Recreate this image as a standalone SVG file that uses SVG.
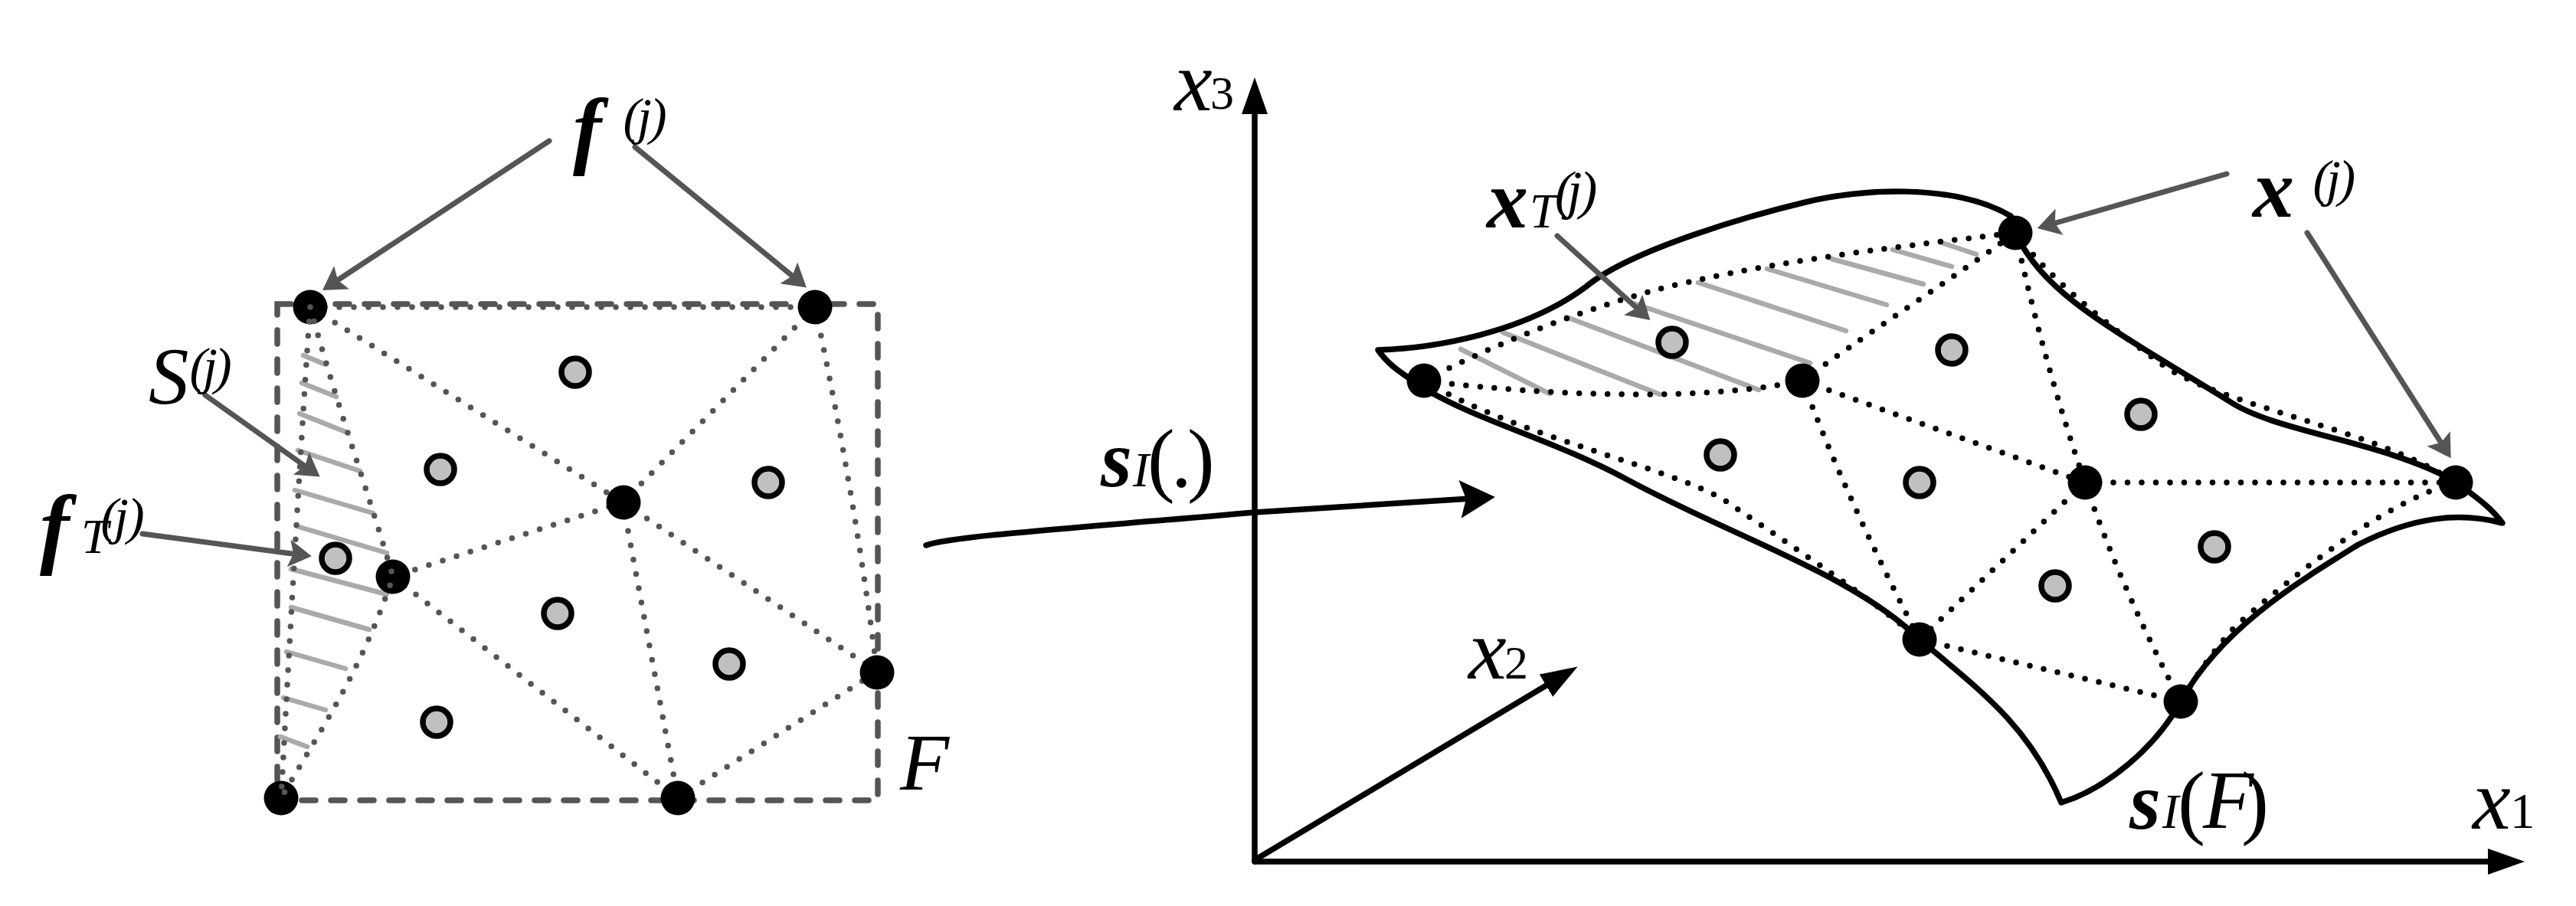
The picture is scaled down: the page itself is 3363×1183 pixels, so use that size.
<svg xmlns="http://www.w3.org/2000/svg" width="3363" height="1183" viewBox="0 0 3363 1183">
<style>
text{font-family:"Liberation Serif","Times New Roman",serif;fill:#000}
.i{font-style:italic;font-weight:normal}.b{font-weight:bold;font-style:italic}.u{font-style:normal;font-weight:normal}
.dg{fill:none;stroke:#555;stroke-width:7.5;stroke-linecap:round;stroke-dasharray:0 19}
.dk{fill:none;stroke:#000;stroke-width:7.5;stroke-linecap:round;stroke-dasharray:0 18.5}
.h{stroke:#aaa;stroke-width:6.5;stroke-linecap:round}
.ag{stroke:#555;stroke-width:7;fill:none;stroke-linecap:round;marker-end:url(#hg)}
.ak{stroke:#000;stroke-width:7.5;fill:none;stroke-linecap:round}
.bn{fill:#000}.gn{fill:#c0c0c0;stroke:#000;stroke-width:7.5}
</style>
<defs>
<marker id="hg" markerUnits="userSpaceOnUse" markerWidth="34" markerHeight="40" refX="12" refY="18" orient="auto"><path d="M0 0L30 18L0 36L6 18Z" fill="#555"/></marker>
<marker id="hk" markerUnits="userSpaceOnUse" markerWidth="52" markerHeight="38" refX="10" refY="17" orient="auto"><path d="M0 0L48 17L0 34Z" fill="#000"/></marker>
<marker id="hs" markerUnits="userSpaceOnUse" markerWidth="52" markerHeight="54" refX="14" refY="25" orient="auto"><path d="M0 0L46 25L0 50L8 25Z" fill="#000"/></marker>
</defs>
<rect width="3363" height="1183" fill="#fff"/>
<g id="connectors">
<rect id="frame-F" x="362" y="397" width="784" height="648" fill="none" stroke="#555" stroke-width="7.5" stroke-linecap="round" stroke-dasharray="18 20"/>
<path class="dg" d="M405 401H1064M405 401L813 656M1064 401L813 656M1064 401Q1115 640 1145 877M813 656L1145 877M813 656L513 753M813 656L885 1042M513 753L885 1042M885 1042L1145 877"/>
<g id="hatch-left">
<path class="h" d="M396 464L425 476M394 500L439 518M391 540L454 565M389 588L470 615M385 640L487 670M387 687L505 722M380 743L505 776M380 793L482 822M374 851L451 873M370 911L425 927M366 962L401 975"/>
</g>
<g id="hatch-right">
<path class="h" d="M1907 456L2023 514M1962 434L2167 515M2045 414L2296 509M2129 395L2363 474M2217 369L2410 432M2307 351L2463 398M2391 338L2511 371M2471 326L2548 348M2535 317L2580 332"/>
</g>
<path id="surface" fill="none" stroke="#000" stroke-width="7.5" stroke-linejoin="round" stroke-linecap="round" d="M2625 282C2550 238 2425 247 2357 264C2290 280 2130 325 2071 374C1990 435 1870 455 1799 457C1815 480 1835 490 1859 507C1930 550 2030 575 2124 626C2260 700 2420 750 2506 835C2590 905 2650 950 2691 1048C2750 1030 2815 975 2847 916C2900 820 3000 760 3079 711C3150 675 3210 668 3267 683C3250 660 3230 648 3206 629C3110 575 2970 565 2909 523C2750 425 2670 385 2631 304"/>
<path class="dk" d="M1859 497C1950 450 2050 410 2156 380C2290 345 2450 325 2631 304M1859 497C1960 510 2200 530 2353 497M2353 497C2460 420 2540 370 2631 304M1859 497C1980 570 2180 610 2251 653C2350 720 2440 780 2506 835M2353 497Q2410 650 2506 835M2353 497L2722 630M2631 304Q2670 480 2722 630M2631 304C2680 370 2760 430 2824 477C2900 530 3100 560 3206 630M2722 630H3206M3206 630C3130 650 3030 720 2919 817Q2880 860 2847 916M2722 630L2506 835M2722 630Q2770 770 2847 916M2506 835L2847 916"/>
<path class="ak" d="M1209 712C1240 700 1400 690 1638 669L1920 651" marker-end="url(#hs)"/>
<path class="ak" d="M1638 1125V139" marker-end="url(#hk)"/>
<path class="ak" d="M1638 1125H3258" marker-end="url(#hk)"/>
<path class="ak" d="M1638 1123L2027 890" marker-end="url(#hk)"/>
<path class="ag" d="M717 184L436 369"/>
<path class="ag" d="M829 192L1039 364"/>
<path class="ag" d="M268 516L403 612"/>
<path class="ag" d="M186 697L389 724"/>
<path class="ag" d="M2907 227L2677 293"/>
<path class="ag" d="M3012 304L3190 583"/>
<path class="ag" d="M2033 308L2141 406"/>
</g>
<g id="node-f1"><circle class="bn" cx="405" cy="401" r="22.5"/></g>
<g id="node-f2"><circle class="bn" cx="1064" cy="401" r="22.5"/></g>
<g id="node-f3"><circle class="bn" cx="814" cy="656" r="22.5"/></g>
<g id="node-f4"><circle class="bn" cx="513" cy="753" r="22.5"/></g>
<g id="node-f5"><circle class="bn" cx="1145" cy="878" r="22.5"/></g>
<g id="node-f6"><circle class="bn" cx="367" cy="1042" r="22.5"/></g>
<g id="node-f7"><circle class="bn" cx="885" cy="1042" r="22.5"/></g>
<g id="node-g1"><circle class="gn" cx="751" cy="486" r="18"/></g>
<g id="node-g2"><circle class="gn" cx="575" cy="613" r="18"/></g>
<g id="node-g3"><circle class="gn" cx="1003" cy="630" r="18"/></g>
<g id="node-g4"><circle class="gn" cx="438" cy="729" r="18"/></g>
<g id="node-g5"><circle class="gn" cx="728" cy="801" r="18"/></g>
<g id="node-g6"><circle class="gn" cx="952" cy="867" r="18"/></g>
<g id="node-g7"><circle class="gn" cx="570" cy="943" r="18"/></g>
<g id="node-x1"><circle class="bn" cx="1859" cy="497" r="22.5"/></g>
<g id="node-x2"><circle class="bn" cx="2353" cy="497" r="22.5"/></g>
<g id="node-x3"><circle class="bn" cx="2631" cy="304" r="22.5"/></g>
<g id="node-x4"><circle class="bn" cx="2722" cy="630" r="22.5"/></g>
<g id="node-x5"><circle class="bn" cx="3206" cy="630" r="22.5"/></g>
<g id="node-x6"><circle class="bn" cx="2506" cy="835" r="22.5"/></g>
<g id="node-x7"><circle class="bn" cx="2847" cy="916" r="22.5"/></g>
<g id="node-y1"><circle class="gn" cx="2183" cy="447" r="18"/></g>
<g id="node-y2"><circle class="gn" cx="2548" cy="457" r="18"/></g>
<g id="node-y3"><circle class="gn" cx="2795" cy="541" r="18"/></g>
<g id="node-y4"><circle class="gn" cx="2246" cy="594" r="18"/></g>
<g id="node-y5"><circle class="gn" cx="2506" cy="630" r="18"/></g>
<g id="node-y6"><circle class="gn" cx="2891" cy="714" r="18"/></g>
<g id="node-y7"><circle class="gn" cx="2683" cy="765" r="18"/></g>
<path class="dg" d="M405 401C395 540 380 800 367 1042M405 401C440 530 480 640 513 753C470 880 420 950 367 1042"/>
<g id="labels">
<text x="748" y="206" font-size="112" class="b">f<tspan x="813.5 832 848" y="175" font-size="68" class="i">(j)</tspan></text>
<text x="194" y="527" font-size="105" class="i">S<tspan x="247.5 265 280" y="501" font-size="68">(j)</tspan></text>
<text x="52" y="727" font-size="116" class="b">f<tspan x="106" y="722" font-size="64" class="i">T</tspan><tspan x="131.5 149 166" y="697" font-size="68" class="i">(j)</tspan></text>
<text x="1175" y="1031" font-size="105" class="i">F</text>
<text x="1437" y="635" font-size="105" class="b">s<tspan x="1479" font-size="64" class="i">I</tspan><tspan x="1498 1529 1550" font-size="107" class="u">(.)</tspan></text>
<text x="1533" y="144" font-size="112" class="i">x<tspan x="1580" y="142" font-size="62" class="u">3</tspan></text>
<text x="1917" y="886" font-size="112" class="i">x<tspan x="1964" font-size="62" class="u">2</tspan></text>
<text x="3228" y="1082" font-size="112" class="i">x<tspan x="3277" y="1081" font-size="65" class="u">1</tspan></text>
<text x="2780" y="1082" font-size="105" class="b">s<tspan x="2823" y="1081" font-size="64" class="i">I</tspan><tspan x="2843" y="1082" font-size="108" class="u">(</tspan><tspan x="2876" y="1081" font-size="108" class="i">F</tspan><tspan x="2926" y="1082" font-size="108" class="u">)</tspan></text>
<text x="1941" y="297" font-size="108" class="b">x<tspan x="1997" font-size="64" class="i">T</tspan><tspan x="2030 2046 2062" y="272" font-size="70" class="i">(j)</tspan></text>
<text x="2941" y="283" font-size="108" class="b">x<tspan x="3019.5 3037 3052.5" y="256" font-size="68" class="i">(j)</tspan></text>
</g>
</svg>
